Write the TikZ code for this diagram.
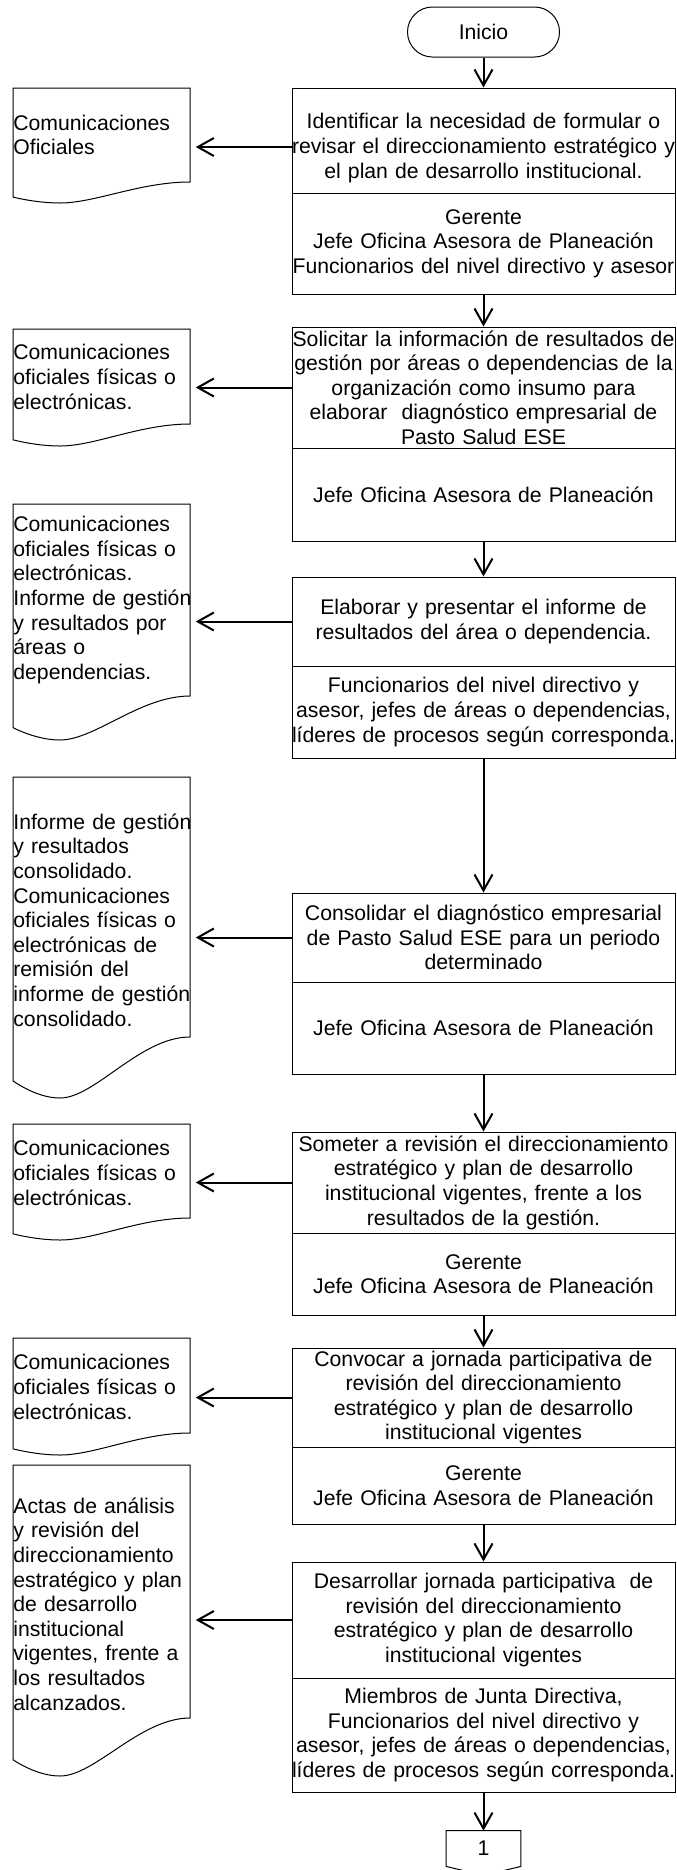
\documentclass[tikz,border=0pt]{standalone}
\usepackage{fontspec}
\setmainfont{Liberation Sans}
\usetikzlibrary{arrows.meta}
\newcommand\fs{\fontsize{10.6pt}{12.3pt}\selectfont}
\newcommand\docout[3]{\draw[line width=0.5pt] (13,#1) -- (190,#1) -- (190,#2) .. controls (140,#2) and (95,{#2+#3}) .. (60,{#2+#3}) .. controls (45,{#2+#3}) and (28,{#2+0.888*#3}) .. (13,{#2+0.72*#3}) -- cycle;}
\begin{document}
\begin{tikzpicture}[x=0.5pt,y=-0.5pt,
  cell/.style={draw, line width=0.5pt, text width=199.5pt, inner xsep=-4pt, inner ysep=0pt, align=center, font=\fs},
  celltext/.style={text width=199.5pt, inner xsep=-4pt, inner ysep=0pt, align=center, font=\fs},
  docbox/.style={anchor=west, text width=91pt, inner sep=0pt, align=left, font=\fs},
  term/.style={draw, line width=0.5pt, rounded corners=12.5pt, minimum width=76pt, minimum height=25pt, inner sep=0pt, font=\fs},
  arr/.style={line width=1pt, -{Straight Barb[length=8pt,width=9pt]}},
  side/.style={arr}]
\useasboundingbox (0,0) rectangle (676,1870);
\clip (0,0) rectangle (676,1870);
\fill[white] (0,0) rectangle (676,1870);

% start
\node[term] (start) at (483.5,32) {Inicio};

% steps
\node[cell, minimum height=52.5pt] (s1) at (483.5,140.5) {};
\node[celltext] (s1t) at (483.5,148) {Identificar la necesidad de formular o\\revisar el direccionamiento estratégico y\\el plan de desarrollo institucional.};
\node[cell, minimum height=50.5pt] (r1) at (483.5,243.5) {Gerente\\Jefe Oficina Asesora de Planeación\\Funcionarios del nivel directivo y asesor};

\node[cell, minimum height=60.5pt] (s2) at (483.5,387.5) {Solicitar la información de resultados de\\gestión por áreas o dependencias de la\\organización como insumo para\\elaborar~ diagnóstico empresarial de\\Pasto Salud ESE};
\node[cell, minimum height=46.5pt] (r2) at (483.5,494.5) {Jefe Oficina Asesora de Planeación};

\node[cell, minimum height=44.5pt] (s3) at (483.5,621.5) {Elaborar y presentar el informe de\\resultados del área o dependencia.};
\node[cell, minimum height=46pt] (r3) at (483.5,712) {Funcionarios del nivel directivo y\\asesor, jefes de áreas o dependencias,\\líderes de procesos según corresponda.};

\node[cell, minimum height=44.5pt] (s4) at (483.5,937.5) {Consolidar el diagnóstico empresarial\\de Pasto Salud ESE para un periodo\\determinado};
\node[cell, minimum height=46pt] (r4) at (483.5,1028) {Jefe Oficina Asesora de Planeación};

\node[cell, minimum height=50.5pt] (s5) at (483.5,1182.5) {Someter a revisión el direccionamiento\\estratégico y plan de desarrollo\\institucional vigentes, frente a los\\resultados de la gestión.};
\node[cell, minimum height=41pt] (r5) at (483.5,1274) {Gerente\\Jefe Oficina Asesora de Planeación};

\node[cell, minimum height=49.5pt] (s6) at (483.5,1397.5) {Convocar a jornada participativa de\\revisión del direccionamiento\\estratégico y plan de desarrollo\\institucional vigentes};
\node[cell, minimum height=38.5pt] (r6) at (483.5,1485.5) {Gerente\\Jefe Oficina Asesora de Planeación};

\node[cell, minimum height=58pt] (s7) at (483.5,1620) {Desarrollar jornada participativa~ de\\revisión del direccionamiento\\estratégico y plan de desarrollo\\institucional vigentes};
\node[cell, minimum height=57pt] (r7) at (483.5,1735) {Miembros de Junta Directiva,\\Funcionarios del nivel directivo y\\asesor, jefes de áreas o dependencias,\\líderes de procesos según corresponda.};

% off-page connector
\node[inner sep=0pt, minimum width=37pt, minimum height=17.5pt, font=\fs] (c1) at (483.5,1848.5) {1};
\draw[line width=0.5pt] (c1.north west) -- (c1.north east) -- (c1.south east) -- ([yshift=-4.5pt]c1.south) -- (c1.south west) -- cycle;

% documents
\docout{88}{182}{21}
\node[docbox] (d1) at (13,135) {Comunicaciones\\Oficiales};
\docout{329}{424}{22}
\node[docbox] (d2) at (13,377) {Comunicaciones\\oficiales físicas o\\electrónicas.};
\docout{504}{696}{44}
\node[docbox] (d3) at (13,600) {Comunicaciones\\oficiales físicas o\\electrónicas.\\Informe de gestión\\y resultados por\\áreas o\\dependencias.};
\docout{777}{1037}{61}
\node[docbox] (d4) at (13,920) {Informe de gestión\\y resultados\\consolidado.\\Comunicaciones\\oficiales físicas o\\electrónicas de\\remisión del\\informe de gestión\\consolidado.};
\docout{1124}{1218}{22}
\node[docbox] (d5) at (13,1173) {Comunicaciones\\oficiales físicas o\\electrónicas.};
\docout{1338}{1433}{22}
\node[docbox] (d6) at (13,1387) {Comunicaciones\\oficiales físicas o\\electrónicas.};
\docout{1465}{1718}{58}
\node[docbox] (d7) at (13,1604) {Actas de análisis\\y revisión del\\direccionamiento\\estratégico y plan\\de desarrollo\\institucional\\vigentes, frente a\\los resultados\\alcanzados.};

% main flow
\draw[arr] (start.south) -- (s1.north);
\draw[arr] (r1.south) -- (s2.north);
\draw[arr] (r2.south) -- (s3.north);
\draw[arr] (r3.south) -- (s4.north);
\draw[arr] (r4.south) -- (s5.north);
\draw[arr] (r5.south) -- (s6.north);
\draw[arr] (r6.south) -- (s7.north);
\draw[arr] (r7.south) -- (c1.north);

% side arrows to documents
\coordinate (a1) at (292,147);
\draw[side] (a1) -- (a1 -| d1.east);
\draw[side] (s2.west) -- (s2.west -| d2.east);
\draw[side] (s3.west) -- (s3.west -| d3.east);
\draw[side] (s4.west) -- (s4.west -| d4.east);
\draw[side] (s5.west) -- (s5.west -| d5.east);
\draw[side] (s6.west) -- (s6.west -| d6.east);
\draw[side] (s7.west) -- (s7.west -| d7.east);
\end{tikzpicture}
\end{document}
